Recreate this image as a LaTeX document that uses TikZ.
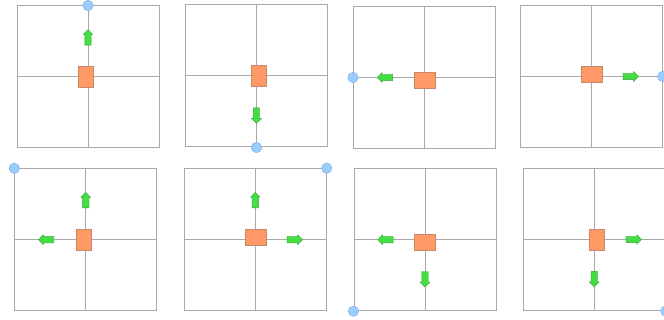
\documentclass[tikz,border=0pt]{standalone}
\usetikzlibrary{shapes.arrows}
\definecolor{linegray}{HTML}{A9A9A9}
\definecolor{bodyfill}{HTML}{FF9966}
\definecolor{bodyedge}{HTML}{C8876A}
\definecolor{pushfill}{HTML}{44DD44}
\definecolor{pushedge}{HTML}{33A833}
\definecolor{dotfill}{HTML}{99CCFF}
\definecolor{dotedge}{HTML}{7FAADD}
\tikzset{
  frame/.style={
    draw=linegray,
    line width=1pt,
    minimum size=142pt,
    inner sep=0pt,
  },
  axis/.style={
    draw=linegray,
    line width=1pt,
  },
  tall body/.style={
    draw=bodyedge,
    fill=bodyfill,
    inner sep=0pt,
    minimum width=15pt,
    minimum height=21pt,
  },
  wide body/.style={
    draw=bodyedge,
    fill=bodyfill,
    inner sep=0pt,
    minimum width=21pt,
    minimum height=16pt,
  },
  push/.style={
    single arrow,
    draw=pushedge,
    fill=pushfill,
    inner xsep=0pt,
    inner ysep=3pt,
    minimum height=15.5pt,
    minimum width=9.5pt,
    single arrow head extend=1.7pt,
    single arrow head indent=0pt,
    rotate=#1,
  },
  corner/.style={
    circle,
    draw=dotedge,
    fill=dotfill,
    minimum size=10.5pt,
    inner sep=0pt,
  }
}

\begin{document}
\begin{tikzpicture}[x=1pt,y=-1pt]
        \useasboundingbox (0,0) rectangle (664,320);

        % top row: one push each
        \node [frame] (f1) at (88,77) {};
        \draw [axis] (f1.north) -- (f1.south) (f1.west) -- (f1.east);
        \node [tall body] (b1) at ([xshift=-2.5pt]f1.center) {};
        \node [push=90] (m1) at ([yshift=38pt]f1.center) {};
        \node [corner] (c1) at (f1.north) {};

        \node [frame] (f2) at (256.5,76) {};
        \draw [axis] (f2.north) -- (f2.south) (f2.west) -- (f2.east);
        \node [tall body] (b2) at ([xshift=2.5pt]f2.center) {};
        \node [push=270] (m2) at ([yshift=-38pt]f2.center) {};
        \node [corner] (c2) at (f2.south) {};

        \node [frame] (f3) at (424.5,77.5) {};
        \draw [axis] (f3.north) -- (f3.south) (f3.west) -- (f3.east);
        \node [wide body] (b3) at ([yshift=-2.5pt]f3.center) {};
        \node [push=180] (m3) at ([xshift=-38pt]f3.center) {};
        \node [corner] (c3) at (f3.west) {};

        \node [frame] (f4) at (591.2,76.5) {};
        \draw [axis] (f4.north) -- (f4.south) (f4.west) -- (f4.east);
        \node [wide body] (b4) at ([yshift=2.5pt]f4.center) {};
        \node [push=0] (m4) at ([xshift=38pt]f4.center) {};
        \node [corner] (c4) at (f4.east) {};

        % bottom row: two pushes each
        \node [frame] (f5) at (85.8,239.8) {};
        \draw [axis] (f5.north) -- (f5.south) (f5.west) -- (f5.east);
        \node [tall body] (b5) at ([xshift=-2.5pt]f5.center) {};
        \node [push=90] (m5a) at ([yshift=38pt]f5.center) {};
        \node [push=180] (m5b) at ([xshift=-38pt]f5.center) {};
        \node [corner] (c5) at (f5.north west) {};

        \node [frame] (f6) at (255.2,239.7) {};
        \draw [axis] (f6.north) -- (f6.south) (f6.west) -- (f6.east);
        \node [wide body] (b6) at ([yshift=2.5pt]f6.center) {};
        \node [push=90] (m6a) at ([yshift=38pt]f6.center) {};
        \node [push=0] (m6b) at ([xshift=38pt]f6.center) {};
        \node [corner] (c6) at (f6.north east) {};

        \node [frame] (f7) at (425,239.7) {};
        \draw [axis] (f7.north) -- (f7.south) (f7.west) -- (f7.east);
        \node [wide body] (b7) at ([yshift=-3pt]f7.center) {};
        \node [push=180] (m7a) at ([xshift=-38pt]f7.center) {};
        \node [push=270] (m7b) at ([yshift=-38pt]f7.center) {};
        \node [corner] (c7) at (f7.south west) {};

        \node [frame] (f8) at (594.3,239.5) {};
        \draw [axis] (f8.north) -- (f8.south) (f8.west) -- (f8.east);
        \node [tall body] (b8) at ([xshift=2.5pt]f8.center) {};
        \node [push=0] (m8a) at ([xshift=38pt]f8.center) {};
        \node [push=270] (m8b) at ([yshift=-38pt]f8.center) {};
        \node [corner] (c8) at (f8.south east) {};
      \end{tikzpicture}
\end{document}
